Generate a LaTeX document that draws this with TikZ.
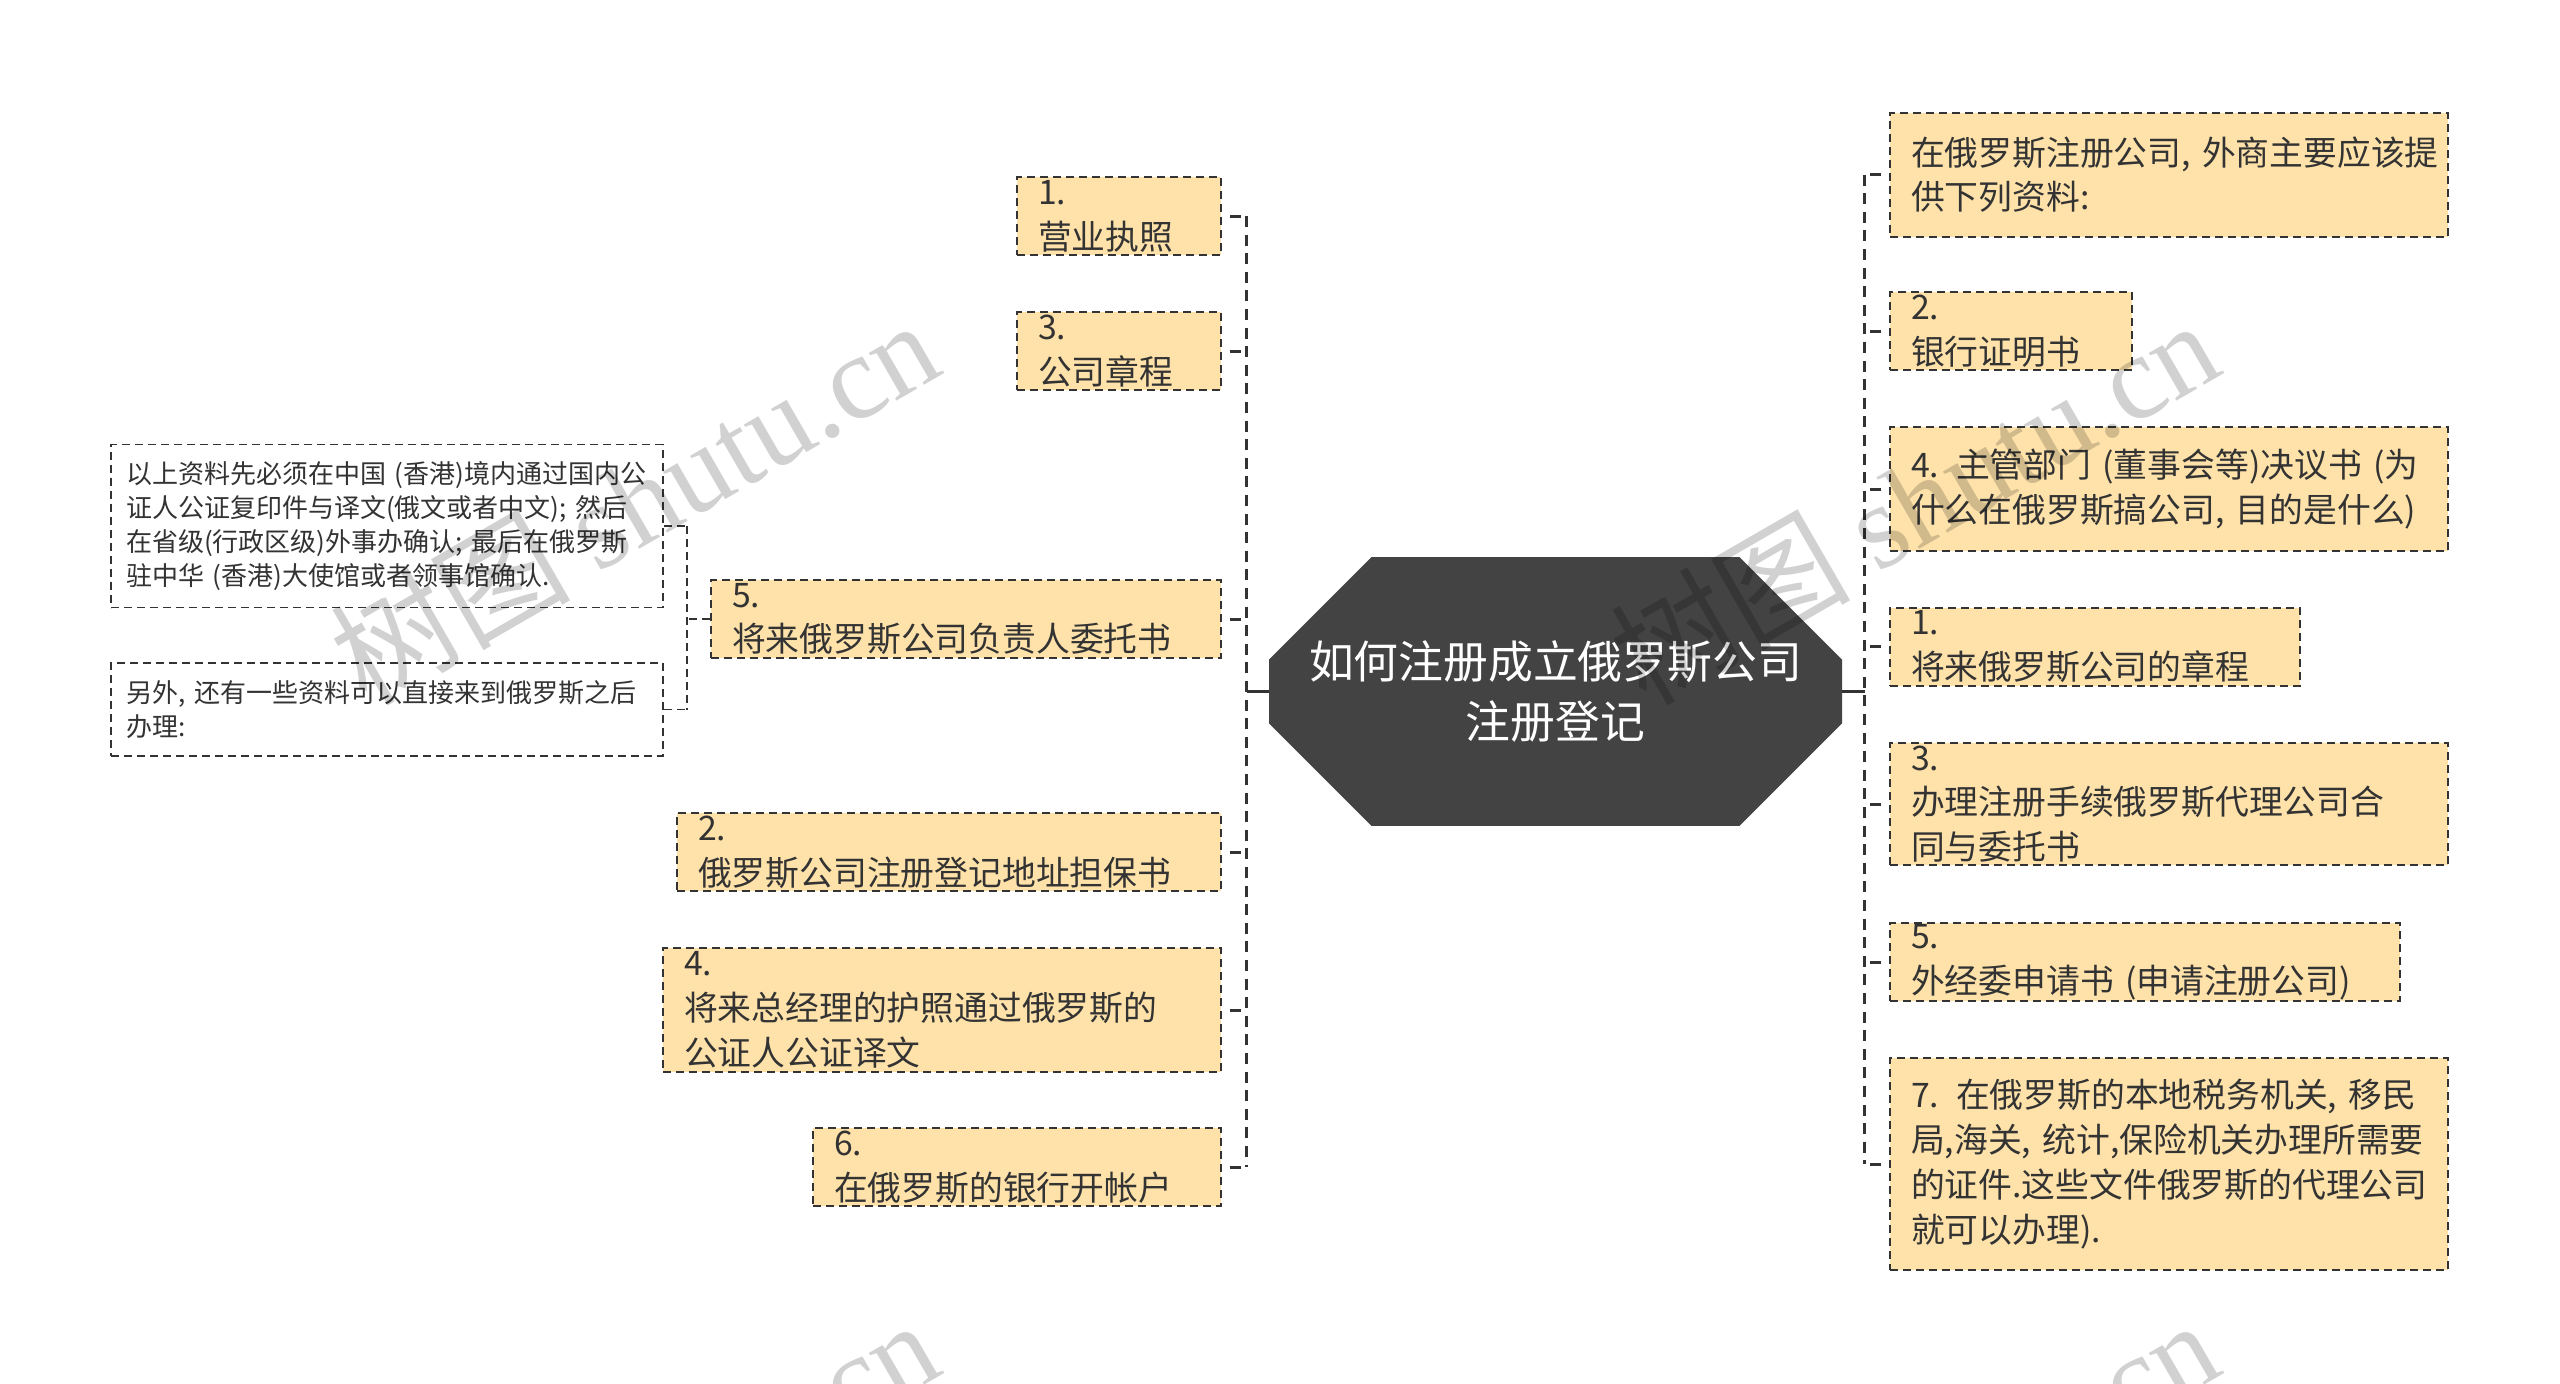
\documentclass[tikz,border=0pt]{standalone}
\usepackage{fontspec}
\setmainfont{Noto Sans CJK SC}
\newfontfamily\markfont{Liberation Serif}
\usepackage{tikz}
\usetikzlibrary{shapes,positioning,calc}
\usepackage{xcolor}
\definecolor{rootgray}{RGB}{67,67,67}
\definecolor{linegray}{RGB}{51,51,51}
\definecolor{leafyellow}{RGB}{254,226,170}
\tikzset{
    rootbox/.style={chamfered rectangle, chamfered rectangle xsep=9.5pt, chamfered rectangle ysep=41.75pt, fill=rootgray, text=white, align=center, minimum width=286.5pt, minimum height=83.5pt, inner sep=0pt, font=\fontsize{22.4}{30}\selectfont},
    leafbox/.style={draw=linegray, fill=leafyellow, line width=1pt, dash pattern=on 4pt off 2.5pt, text=linegray, text width=#1, align=left, inner xsep=10.5pt, inner ysep=0pt, font=\fontsize{16.9}{22.4}\selectfont},
    notebox/.style={draw=linegray, line width=0.8pt, dash pattern=on 4pt off 2.5pt, text=linegray, text width=#1, align=left, inner xsep=7.5pt, inner ysep=0pt, font=\fontsize{13}{17}\selectfont},
    trunk/.style={draw=linegray, line width=1.5pt},
    spine/.style={draw=linegray, line width=1.5pt, dash pattern=on 5.5pt off 3.8pt},
    stub/.style={draw=linegray, line width=1.5pt, dash pattern=on 5.5pt off 3.8pt, dash phase=5.5pt},
    thinlink/.style={draw=linegray, line width=0.8pt, dash pattern=on 4pt off 2.5pt},
    stamp/.style={rotate=30, anchor=base east, text=black, text opacity=0.18, inner sep=0pt, font=\fontsize{60}{60}\selectfont}
}

\begin{document}
\begin{tikzpicture}[x=0.5pt, y=-0.5pt]
    \fill[white] (0,0) rectangle (2560,1383);
    \useasboundingbox (0,0) rectangle (2560,1383);

    \node[rootbox] (root) at (1555.5,691.5) {如何注册成立俄罗斯公司\\注册登记};

    \node[leafbox=81pt, minimum height=39pt, anchor=east] (yingye) at (1222,216) {1. 营业执照};
    \node[leafbox=81pt, minimum height=39pt, anchor=east] (zhangcheng) at (1222,351) {3. 公司章程};
    \node[leafbox=234pt, minimum height=39pt, anchor=east] (fuzeren) at (1222,619) {5. 将来俄罗斯公司负责人委托书};
    \node[leafbox=251pt, minimum height=39pt, anchor=east] (danbao) at (1222,852) {2. 俄罗斯公司注册登记地址担保书};
    \node[leafbox=258pt, minimum height=62pt, anchor=east] (huzhao) at (1222,1010) {4. 将来总经理的护照通过俄罗斯的\\公证人公证译文};
    \node[leafbox=183pt, minimum height=39pt, anchor=east] (yinhang) at (1222,1167) {6. 在俄罗斯的银行开帐户};

    \node[notebox=261pt, minimum height=81.5pt, anchor=east] (renzheng) at (664,526) {以上资料先必须在中国~(香港)境内通过国内公\\证人公证复印件与译文(俄文或者中文);~然后\\在省级(行政区级)外事办确认;~最后在俄罗斯\\驻中华~(香港)大使馆或者领事馆确认.};
    \node[notebox=261pt, minimum height=46.5pt, anchor=east] (banli) at (664,709.5) {另外,~还有一些资料可以直接来到俄罗斯之后\\办理:};

    \node[leafbox=258pt, minimum height=62pt, anchor=west] (ziliao) at (1889,174.5) {在俄罗斯注册公司,~外商主要应该提\\供下列资料:};
    \node[leafbox=100pt, minimum height=39pt, anchor=west] (zhengming) at (1889,331) {2. 银行证明书};
    \node[leafbox=258pt, minimum height=62pt, anchor=west] (jueyi) at (1889,489) {4. 主管部门~(董事会等)决议书~(为\\什么在俄罗斯搞公司,~目的是什么)};
    \node[leafbox=184pt, minimum height=39pt, anchor=west] (guicheng) at (1889,646.5) {1. 将来俄罗斯公司的章程};
    \node[leafbox=258pt, minimum height=61pt, anchor=west] (daili) at (1889,804) {3. 办理注册手续俄罗斯代理公司合\\同与委托书};
    \node[leafbox=234pt, minimum height=39pt, anchor=west] (shenqing) at (1889,962) {5. 外经委申请书~(申请注册公司)};
    \node[leafbox=258pt, minimum height=106pt, anchor=west] (shuiwu) at (1889,1164) {7. 在俄罗斯的本地税务机关,~移民\\局,海关,~统计,保险机关办理所需要\\的证件.这些文件俄罗斯的代理公司\\就可以办理).};

    \coordinate (spineleft) at (1246.5,691.5);
    \coordinate (spineright) at (1864.5,691.5);
    \coordinate (forkleft) at (687,619);

    \draw[trunk] (root.west) -- (spineleft);
    \draw[trunk] (root.east) -- (spineright);

    \draw[spine] (yingye.east -| spineleft) -- (yinhang.east -| spineleft);
    \draw[stub] (yingye.east) -- (yingye.east -| spineleft);
    \draw[stub] (zhangcheng.east) -- (zhangcheng.east -| spineleft);
    \draw[stub] (fuzeren.east) -- (fuzeren.east -| spineleft);
    \draw[stub] (danbao.east) -- (danbao.east -| spineleft);
    \draw[stub] (huzhao.east) -- (huzhao.east -| spineleft);
    \draw[stub] (yinhang.east) -- (yinhang.east -| spineleft);

    \draw[thinlink] (renzheng.east -| forkleft) -- (banli.east -| forkleft);
    \draw[thinlink] (renzheng.east) -- (renzheng.east -| forkleft);
    \draw[thinlink] (banli.east) -- (banli.east -| forkleft);
    \draw[thinlink] (fuzeren.west) -- (forkleft);

    \draw[spine] (ziliao.west -| spineright) -- (shuiwu.west -| spineright);
    \draw[stub] (ziliao.west) -- (ziliao.west -| spineright);
    \draw[stub] (zhengming.west) -- (zhengming.west -| spineright);
    \draw[stub] (jueyi.west) -- (jueyi.west -| spineright);
    \draw[stub] (guicheng.west) -- (guicheng.west -| spineright);
    \draw[stub] (daili.west) -- (daili.west -| spineright);
    \draw[stub] (shenqing.west) -- (shenqing.west -| spineright);
    \draw[stub] (shuiwu.west) -- (shuiwu.west -| spineright);

    \node[stamp] (stampa) at (947,372) {树图 {\markfont shutu.cn}};
    \node[stamp] (stampb) at (2227,372) {树图 {\markfont shutu.cn}};
    \node[stamp] (stampc) at (947,1372) {树图 {\markfont shutu.cn}};
    \node[stamp] (stampd) at (2227,1372) {树图 {\markfont shutu.cn}};
\end{tikzpicture}
\end{document}
